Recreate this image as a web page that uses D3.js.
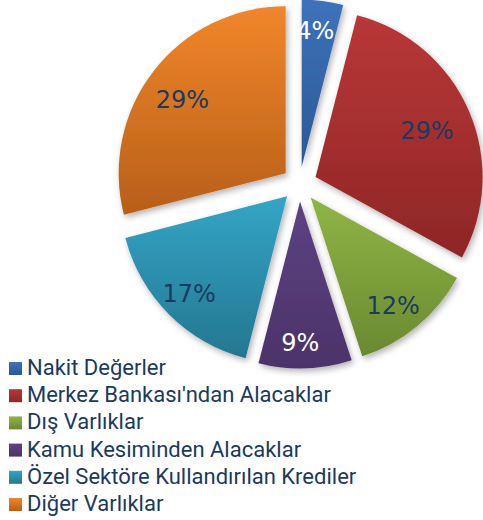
<!DOCTYPE html>
<html>
<head>
<meta charset="utf-8">
<script src="https://cdn.jsdelivr.net/npm/d3@7"></script>
<style>
  body { margin: 0; background: #fff; }
  svg { display: block; }
</style>
</head>
<body>
<div id="chart"></div>
<script>
// data
let categories = ["Nakit Değerler",
                  "Merkez Bankası'ndan Alacaklar",
                  "Dış Varlıklar",
                  "Kamu Kesiminden Alacaklar",
                  "Özel Sektöre Kullandırılan Krediler",
                  "Diğer Varlıklar"];
let values = [4, 29, 12, 9, 17, 29];
let topColors    = ["#3d72ba", "#b93737", "#90b545", "#5d4283", "#33a5c6", "#f1862a"];
let bottomColors = ["#2c5893", "#8e2626", "#6a8930", "#4b3369", "#247790", "#b75f18"];
let labelColors  = ["#ffffff", "#1b3a60", "#1b3a60", "#ffffff", "#1b3a60", "#1b3a60"];

let larg = 483;
let alt = 520;
let cx = 299.5, cy = 184;
let raio = 167;
let explode = 17.5;

let canvas = d3.select("#chart")
                .append("svg")
                .attr("width", larg)
                .attr("height", alt);

let defs = canvas.append("defs");

// one vertical gradient per slice
categories.forEach(function(c, i) {
    let g = defs.append("linearGradient")
                .attr("id", "grad" + i)
                .attr("x1", 0).attr("y1", 0)
                .attr("x2", 0).attr("y2", 1);
    g.append("stop").attr("offset", "0%").attr("stop-color", topColors[i]);
    g.append("stop").attr("offset", "100%").attr("stop-color", bottomColors[i]);
});

let sombra = defs.append("filter")
                .attr("id", "sombra")
                .attr("x", "-20%").attr("y", "-20%")
                .attr("width", "140%").attr("height", "140%");
sombra.append("feDropShadow")
        .attr("dx", 2).attr("dy", 3)
        .attr("stdDeviation", 3)
        .attr("flood-color", "#000")
        .attr("flood-opacity", 0.3);

let pie = d3.pie().sort(null)(values);

let arco = d3.arc().innerRadius(0).outerRadius(raio);
// bigger slices get their label a bit further in (like excel best fit)
let raioLabel = (d) => 143 - 0.6 * d.data;
let labelPos = function(d) {
    let r = raioLabel(d);
    let c = d3.arc().innerRadius(r).outerRadius(r).centroid(d);
    return [c[0] - 4, c[1] + 3];
};

let grupo = canvas.append("g")
                .attr("transform", "translate(" + cx + "," + cy + ")");

let fatias = grupo.selectAll("g.fatia")
                .data(pie)
                .enter()
                    .append("g")
                    .attr("class", "fatia")
                    .attr("transform", function(d) {
                        let a = (d.startAngle + d.endAngle) / 2;
                        return "translate(" + (Math.sin(a) * explode) + "," + (-Math.cos(a) * explode) + ")";
                    });

fatias.append("path")
        .attr("d", arco)
        .attr("fill", (d, i) => "url(#grad" + i + ")")
        .attr("filter", "url(#sombra)");

fatias.append("text")
        .attr("transform", (d) => "translate(" + labelPos(d) + ")")
        .attr("text-anchor", "middle")
        .attr("dy", "0.36em")
        .style("font", "24px 'DejaVu Sans', sans-serif")
        .attr("fill", (d, i) => labelColors[i])
        .text((d) => d.data + "%");

// legend
let legenda = canvas.append("g")
                .attr("transform", "translate(9,362)");

let itens = legenda.selectAll("g")
                .data(categories)
                .enter()
                    .append("g")
                    .attr("transform", (d, i) => "translate(0," + (i * 27.2) + ")");

itens.append("rect")
        .attr("width", 13)
        .attr("height", 13)
        .attr("fill", (d, i) => "url(#grad" + i + ")");

itens.append("text")
        .attr("x", 18)
        .attr("y", 13)
        .style("font", "22px Roboto, sans-serif")
        .attr("fill", "#1b3a60")
        .text((d) => d);
</script>
</body>
</html>
